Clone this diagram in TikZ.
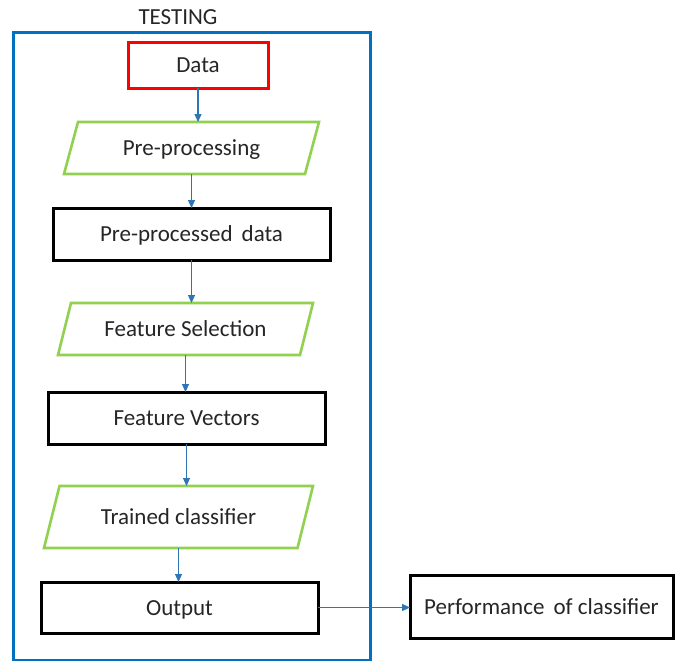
\documentclass[tikz,border=0pt]{standalone}
\usepackage{fontspec}
\setmainfont{Carlito}
\usetikzlibrary{arrows.meta}
\definecolor{frameblue}{HTML}{0070C0}
\definecolor{arrowblue}{HTML}{2E75B6}
\definecolor{boxred}{HTML}{FF0000}
\definecolor{boxgreen}{HTML}{92D050}
\definecolor{txt}{HTML}{262626}
\begin{document}
\begin{tikzpicture}[x=1pt,y=-1pt,
  every node/.style={font=\fontsize{23}{27}\selectfont, text=txt, inner sep=0pt, outer sep=0pt, text height=15pt, text depth=0pt},
  rectbox/.style={draw=black, line width=3pt, minimum width=277pt, minimum height=52pt},
  databox/.style={draw=boxred, line width=3pt, minimum width=140pt, minimum height=45pt},
  parabox/.style={minimum width=255pt, minimum height=52pt},
  paraline/.style={draw=boxgreen, line width=2.6pt, line join=miter},
  conn/.style={draw=arrowblue, line width=1.1pt, -{Triangle[length=8pt,width=7pt]}}
]
\useasboundingbox (0,0) rectangle (680,661);
\fill[white] (0,0) rectangle (680,661);

% frame
\draw[frameblue, line width=3pt] (13,33) rectangle (370,660);
\node (title) at (178,17) {TESTING};

% nodes
\node[databox] (data) at (198,65.5) {Data};
\node[parabox] (pre) at (191.5,148) {Pre-processing};
\node[rectbox] (ppd) at (191.5,234) {Pre-processed\, data};
\node[parabox] (fs) at (185.5,329) {Feature Selection};
\node[rectbox] (fv) at (186.5,418) {Feature Vectors};
\node[parabox, minimum width=269pt, minimum height=62pt] (tc) at (178.5,517) {Trained classifier};
\node[rectbox, minimum height=51pt] (out) at (179.5,607.5) {Output};
\node[rectbox, minimum width=263pt, minimum height=63pt] (perf) at (541.5,606.5) {Performance\, of classifier};

% parallelogram outlines
\foreach \n/\s in {pre/14, fs/13, tc/15.5} {
  \draw[paraline] ([xshift=\s pt]\n.north west) -- (\n.north east)
    -- ([xshift=-\s pt]\n.south east) -- (\n.south west) -- cycle;
}

% connectors
\draw[conn] (data.south) -- (data.south |- pre.north);
\draw[conn] (pre.south) -- (pre.south |- ppd.north);
\draw[conn] (ppd.south) -- (ppd.south |- fs.north);
\draw[conn] (fs.south) -- (fs.south |- fv.north);
\draw[conn] (fv.south) -- (fv.south |- tc.north);
\draw[conn] (tc.south) -- (tc.south |- out.north);
\draw[conn] (out.east) -- (out.east -| perf.west);
\end{tikzpicture}
\end{document}
